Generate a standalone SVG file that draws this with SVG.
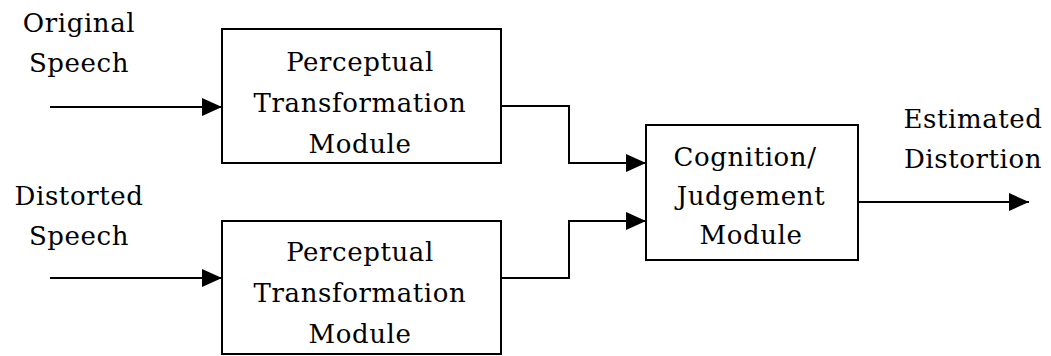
<svg xmlns="http://www.w3.org/2000/svg" width="1051" height="356" viewBox="0 0 1051 356">
<style>
.box{fill:#fff;stroke:#000;stroke-width:2}
.ln{fill:none;stroke:#000;stroke-width:2}
text{font-family:"DejaVu Serif","Liberation Serif",serif;font-size:26px;letter-spacing:0.6px;fill:#000;text-anchor:middle}
</style>
<defs>
<marker id="ah" viewBox="0 0 20 20" refX="20" refY="10" markerWidth="20" markerHeight="20" markerUnits="userSpaceOnUse" orient="auto">
<path d="M0,1 L20,10 L0,19 Z" fill="#000"/>
</marker>
</defs>
<rect width="1051" height="356" fill="#fff"/>
<g id="connectors">
<line class="ln" x1="50" y1="107" x2="222" y2="107" marker-end="url(#ah)"/>
<line class="ln" x1="50" y1="278" x2="222" y2="278" marker-end="url(#ah)"/>
<polyline class="ln" points="501,106 569,106 569,163 646,163" marker-end="url(#ah)"/>
<polyline class="ln" points="501,278 569,278 569,221 646,221" marker-end="url(#ah)"/>
<line class="ln" x1="858" y1="202" x2="1029" y2="202" marker-end="url(#ah)"/>
</g>
<g id="label-original">
<text x="79" y="32">Original</text>
<text x="79" y="72">Speech</text>
</g>
<g id="label-distorted">
<text x="79" y="205">Distorted</text>
<text x="79" y="245">Speech</text>
</g>
<g id="node-ptm1">
<rect class="box" x="222" y="29" width="279" height="134"/>
<text x="360" y="71">Perceptual</text>
<text x="360" y="112">Transformation</text>
<text x="360" y="153">Module</text>
</g>
<g id="node-ptm2">
<rect class="box" x="222" y="221" width="279" height="133"/>
<text x="360" y="261">Perceptual</text>
<text x="360" y="302">Transformation</text>
<text x="360" y="343">Module</text>
</g>
<g id="node-cj">
<rect class="box" x="646" y="125" width="212" height="135"/>
<text x="745" y="166">Cognition/</text>
<text x="751" y="205">Judgement</text>
<text x="751" y="244">Module</text>
</g>
<g id="label-estimated">
<text x="973" y="128">Estimated</text>
<text x="973" y="168">Distortion</text>
</g>
</svg>
